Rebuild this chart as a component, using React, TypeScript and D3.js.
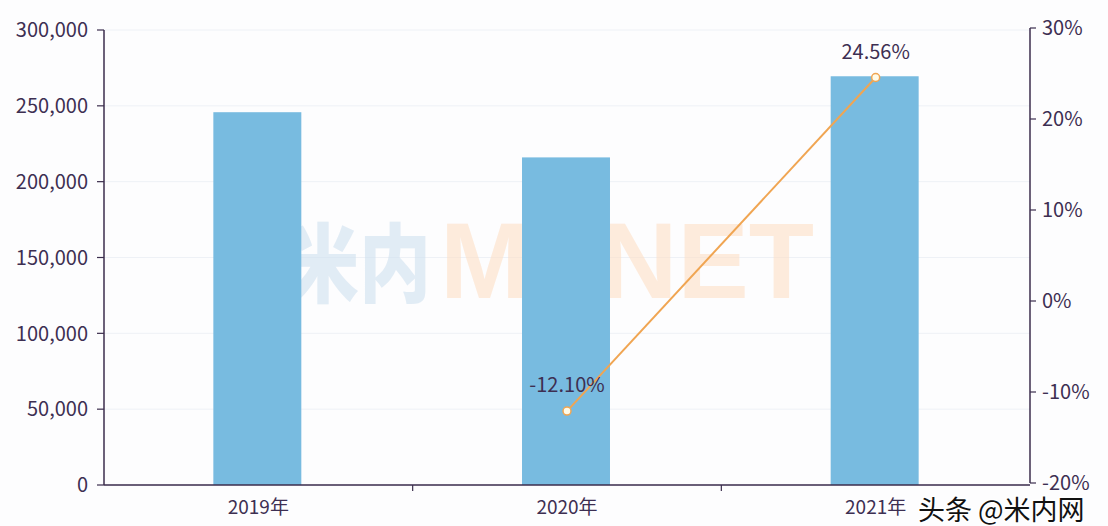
import React from "react";
import * as d3 from "d3";

const categories = ["2019年", "2020年", "2021年"];
const salesValues = [245800, 216000, 269500];
const growthValues: (number | null)[] = [null, -12.1, 24.56];
const leftTicks = [0, 50000, 100000, 150000, 200000, 250000, 300000];
const rightTicks = [-20, -10, 0, 10, 20, 30];

const W = 1108;
const H = 526;
const M = { left: 104, right: 1030, top: 30, bottom: 485 };
const AXIS = "#3b2d4d";
const TEXT = "#3d2f52";
const BAR = "#78bbe0";
const LINE = "#f0a552";
const FONT = "'Noto Sans CJK SC', 'Noto Sans', sans-serif";

const pct = (v: number, digits: number) => d3.format(`.${digits}f`)(v).replace("−", "-") + "%";

export default function App() {
  const x = d3.scaleBand<string>().domain(categories).range([M.left, M.right]).paddingInner(0).paddingOuter(0);
  const yL = d3.scaleLinear().domain([0, 300000]).range([M.bottom, M.top]);
  const yR = d3.scaleLinear().domain([-20, 30]).range([483, 28]);
  const fmt = d3.format(",");
  const barW = x.bandwidth() * 0.285;
  const linePts = categories
    .map((c, i) => ({ c, v: growthValues[i] }))
    .filter((d) => d.v !== null) as { c: string; v: number }[];
  const line = d3
    .line<{ c: string; v: number }>()
    .x((d) => (x(d.c) as number) + x.bandwidth() / 2)
    .y((d) => yR(d.v));

  return (
    <div style={{ position: "absolute", left: 0, top: 0 }}>
      <svg width={W} height={H} style={{ display: "block", fontFamily: FONT }}>
        <rect x={0} y={0} width={W} height={H} fill="#fdfdfe" />
        {leftTicks.map((t) => (
          <line key={"g" + t} x1={M.left} x2={M.right} y1={yL(t)} y2={yL(t)} stroke="#eef1f6" strokeWidth={1} />
        ))}
        {/* faint watermark */}
        <g opacity={0.6}>
          <g transform="translate(287,296) scale(1,1.2)">
            <text x={0} y={0} fontSize={72} fontWeight={900} fill="#cfe1f0" style={{ fontFamily: "'Noto Sans CJK SC', sans-serif" }}>
              米内
            </text>
          </g>
          <text x={440} y={298} fontSize={108} fontWeight={700} fill="#fde0c6" textLength={374} lengthAdjust="spacingAndGlyphs" style={{ fontFamily: "'Liberation Sans', Arial, sans-serif" }}>
            MENET
          </text>
        </g>
        {categories.map((c, i) => (
          <rect
            key={c}
            x={(x(c) as number) + x.bandwidth() / 2 - barW / 2 - 1}
            y={yL(salesValues[i])}
            width={barW}
            height={M.bottom - yL(salesValues[i])}
            fill={BAR}
          />
        ))}
        {/* left axis */}
        <line x1={M.left} x2={M.left} y1={M.top} y2={M.bottom} stroke={AXIS} strokeWidth={1.5} />
        {leftTicks.map((t) => (
          <g key={"l" + t}>
            <line x1={M.left - 7} x2={M.left} y1={yL(t)} y2={yL(t)} stroke={AXIS} strokeWidth={1.2} />
            <text x={M.left - 16} y={yL(t)} dy="0.36em" textAnchor="end" fontSize={20} fill={TEXT}>
              {fmt(t)}
            </text>
          </g>
        ))}
        {/* right axis */}
        <line x1={M.right} x2={M.right} y1={28} y2={483} stroke={AXIS} strokeWidth={1.5} />
        {rightTicks.map((t) => (
          <g key={"r" + t}>
            <line x1={M.right} x2={M.right + 6} y1={yR(t)} y2={yR(t)} stroke={AXIS} strokeWidth={1.2} />
            <text x={M.right + 12} y={yR(t)} dy="0.36em" textAnchor="start" fontSize={20} fill={TEXT}>
              {pct(t, 0)}
            </text>
          </g>
        ))}
        {/* bottom axis */}
        <line x1={M.left} x2={M.right} y1={M.bottom} y2={M.bottom} stroke={AXIS} strokeWidth={1.5} />
        {categories.slice(1).map((c) => (
          <line key={"bt" + c} x1={x(c) as number} x2={x(c) as number} y1={M.bottom} y2={M.bottom + 6} stroke={AXIS} strokeWidth={1.2} />
        ))}
        {categories.map((c) => (
          <text key={"bl" + c} x={(x(c) as number) + x.bandwidth() / 2} y={514} textAnchor="middle" fontSize={19} fill={TEXT}>
            {c}
          </text>
        ))}
        {/* growth line */}
        <path d={line(linePts) || ""} fill="none" stroke={LINE} strokeWidth={2} />
        {linePts.map((d) => {
          const cx = (x(d.c) as number) + x.bandwidth() / 2;
          return (
            <g key={"p" + d.c}>
              <circle cx={cx} cy={yR(d.v)} r={4} fill="#fffbe8" stroke={LINE} strokeWidth={1.5} />
              <text x={cx} y={yR(d.v) - 19} textAnchor="middle" fontSize={20} fill={TEXT}>
                {pct(d.v, 2)}
              </text>
            </g>
          );
        })}
        {/* source watermark */}
        <text
          x={918}
          y={520}
          fontSize={27}
          fill="#111"
          stroke="#fff"
          strokeWidth={3}
          paintOrder="stroke"
          style={{ fontFamily: "'Noto Sans CJK SC', sans-serif" }}
        >
          头条 @米内网
        </text>
      </svg>
    </div>
  );
}
